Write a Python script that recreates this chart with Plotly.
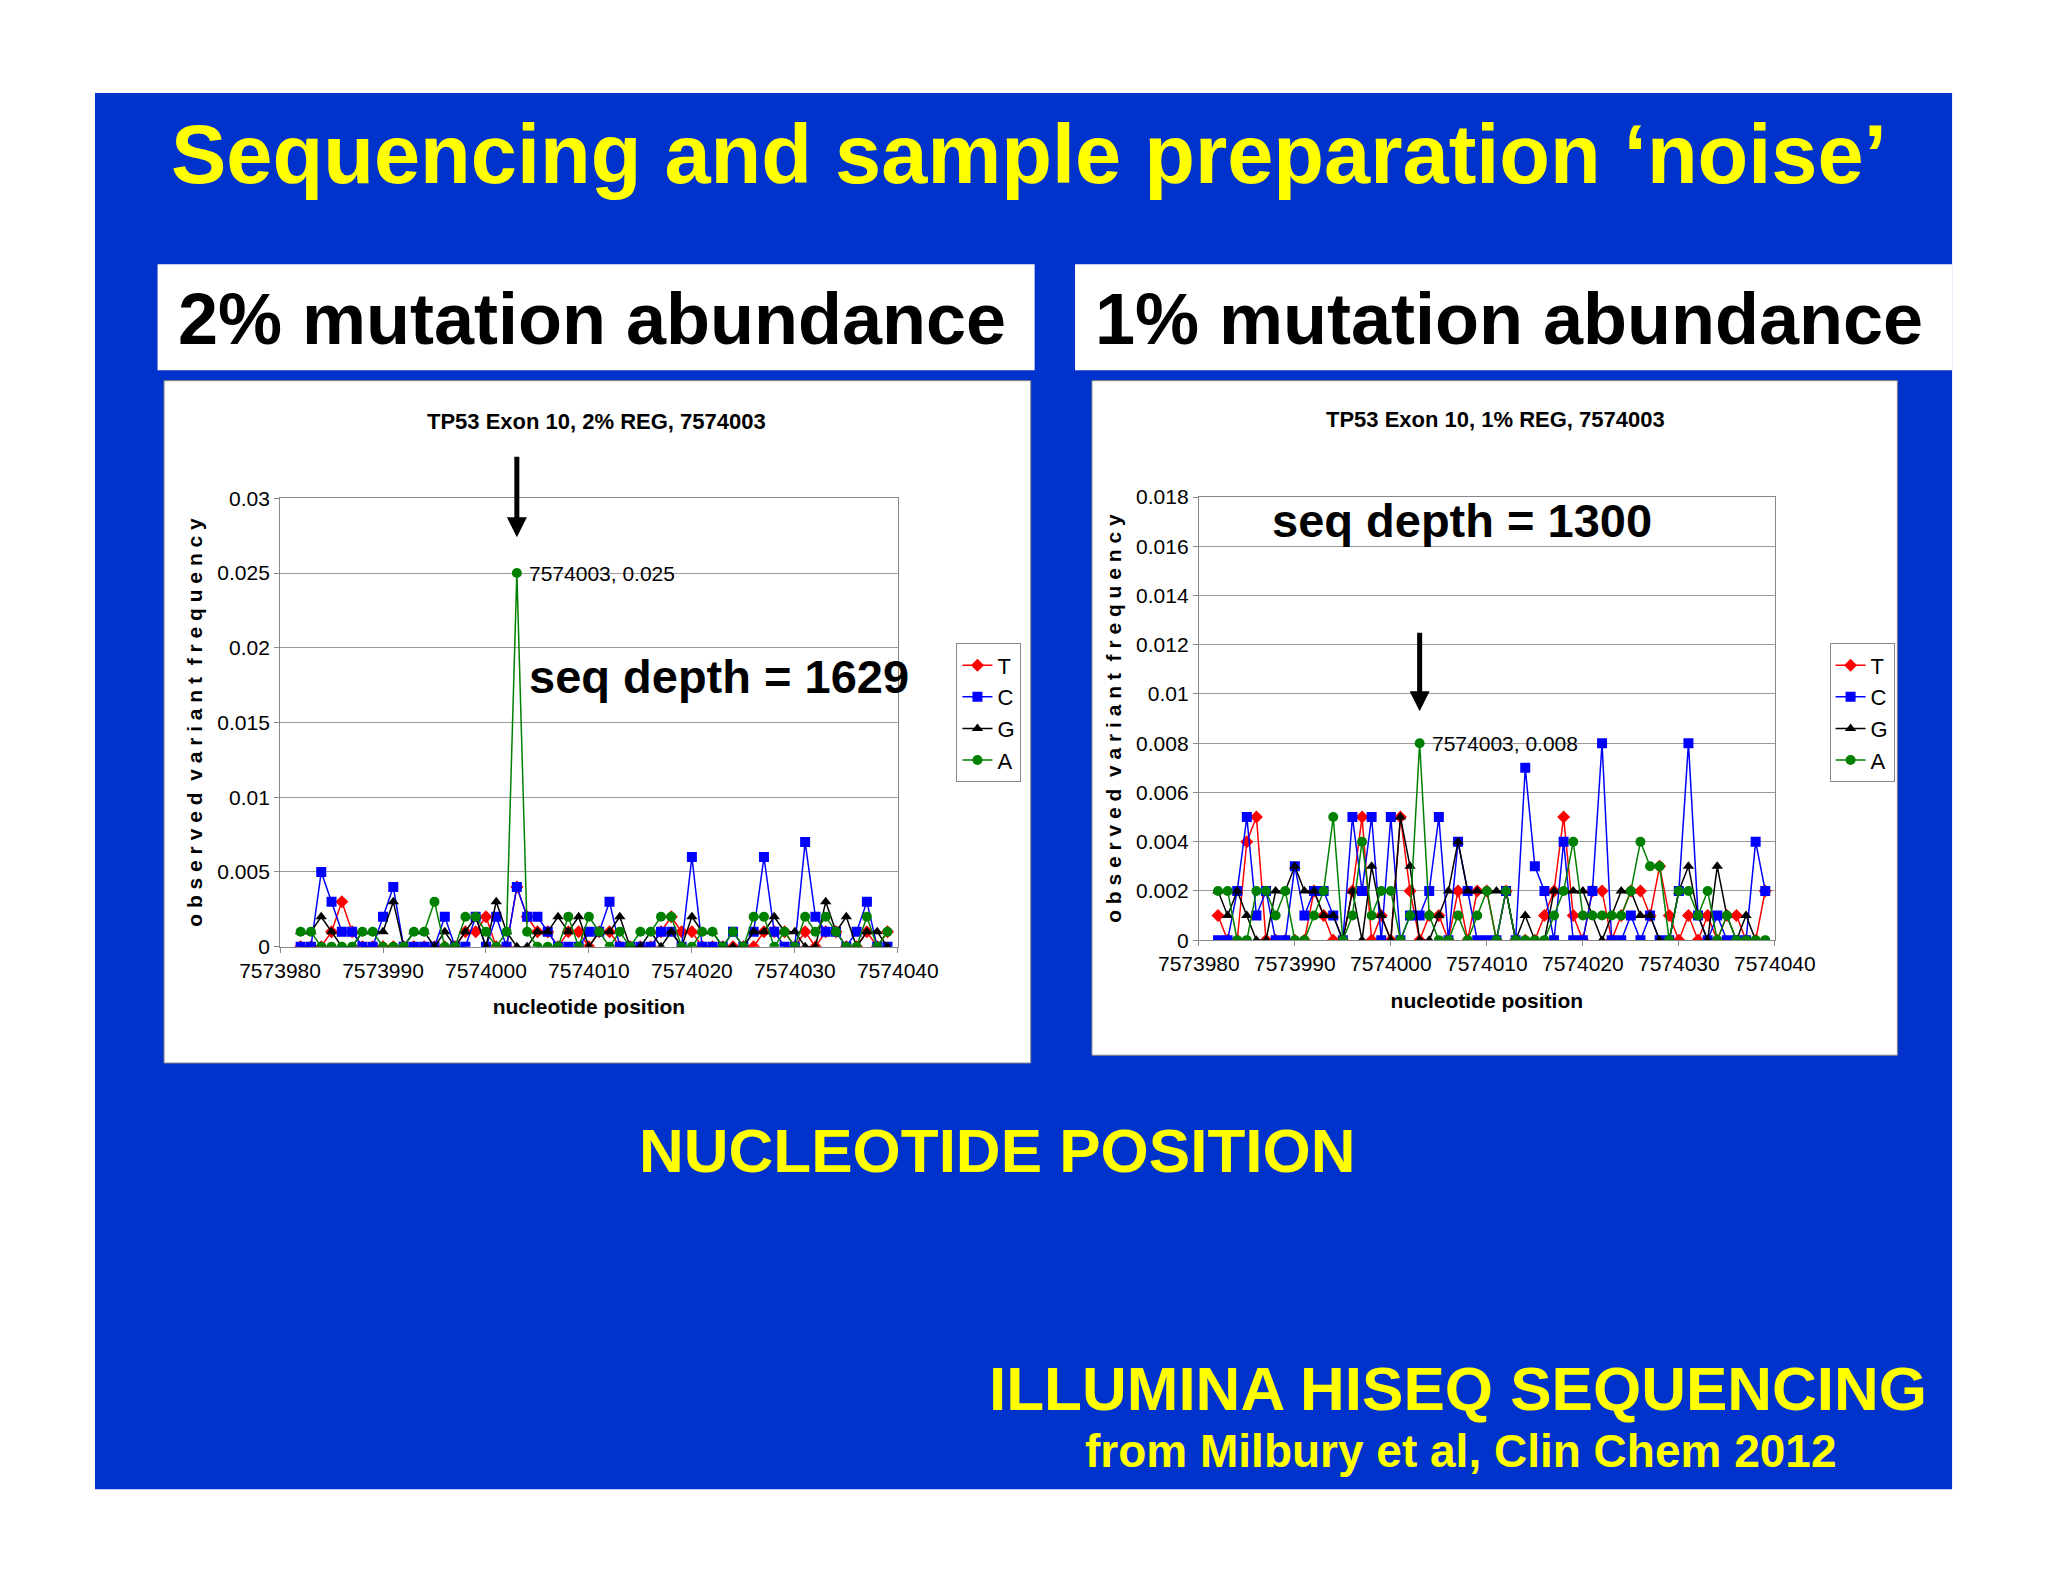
import plotly.graph_objects as go

positions = list(range(7573982, 7574040))
series_names = ["T", "C", "G", "A"]
series_colors = ["#ff0000", "#0000ff", "#000000", "#008000"]
series_symbols = ["diamond", "square", "triangle-up", "circle"]

T_left = [0,0,0,.001,.003,.001,0,0,0,0, 0,0,0,0,0,0,.001,.001,.002,0,
          0,.004,.002,.001,.001,0,.001,.001,0,.001, .001,0,0,0,0,.001,.002,.001,.001,0,
          0,0,0,0,0,.001,.001,.001,0,.001, 0,.001,.001,0,0,.001,0,.001]
C_left = [0,0,.005,.003,.001,.001,0,0,.002,.004, 0,0,0,0,.002,0,0,.002,0,.002,
          0,.004,.002,.002,.001,0,0,0,.001,.001, .003,0,0,0,0,.001,.001,0,.006,0,
          0,0,.001,0,.001,.006,.001,0,0,.007, .002,.001,.001,0,.001,.003,0,0]
G_left = [.001,.001,.002,.001,0,0,.001,.001,.001,.003, 0,.001,.001,0,.001,0,.001,.002,0,.003,
          .001,0,0,.001,.001,.002,.001,.002,0,.001, .001,.002,0,0,.001,0,.001,0,.002,.001,
          .001,0,0,0,.001,.001,.002,.001,.001,0, 0,.003,.001,.002,0,.001,.001,0]
A_left = [.001,.001,0,0,0,0,.001,.001,0,0, 0,.001,.001,.003,0,0,.002,.002,.001,0,
          .001,.025,.001,0,0,0,.002,0,.002,.001, 0,.001,0,.001,.001,.002,.002,0,0,.001,
          .001,0,.001,0,.002,.002,0,.001,0,.002, .001,.002,.001,0,0,.002,0,.001]

T_right = [.001,0,0,.004,.005,0,0,0,0,0, .002,.001,0,0,.002,.005,0,.001,0,.005,
           .002,0,.001,.001,0,.002,0,.002,.002,0, .002,0,0,0,.001,.002,.005,.001,0,.002,
           .002,0,.001,.002,.002,.001,.003,.001,0,.001, 0,.001,0,.001,.001,0,0,.002]
C_right = [0,0,.002,.005,.001,.002,0,0,.003,.001, .002,.002,.001,0,.005,.002,.005,0,.005,0,
           .001,.001,.002,.005,0,.004,.002,0,0,0, .002,0,.007,.003,.002,0,.004,0,0,.002,
           .008,0,0,.001,0,.001,0,0,.002,.008, .001,0,.001,0,0,0,.004,.002]
G_right = [.002,.001,.002,.001,0,0,.002,.002,.003,.002, .002,.001,.001,0,.002,0,.003,.001,0,.005,
           .003,0,0,.001,.002,.004,.002,.002,.002,.002, .002,0,.001,0,0,.002,.002,.002,.002,.001,
           0,.001,.002,.002,.001,.001,0,0,.002,.003, .001,0,.003,.001,0,.001,0,0]
A_right = [.002,.002,0,0,.002,.002,.001,.002,0,0, .001,.002,.005,0,.001,.004,.001,.002,.002,0,
           .001,.008,.001,0,0,.001,0,.001,.002,0, .002,0,0,0,0,.001,.002,.004,.001,.001,
           .001,.001,.001,.002,.004,.003,.003,0,.002,.002, .001,.002,0,.001,0,0,0,0]

left_series = [T_left, C_left, G_left, A_left]
right_series = [T_right, C_right, G_right, A_right]

W, H = 1568.0, 1212.0
def px(x): return ((x - 35.7) / 0.9621) / W
def py(y): return 1 - ((y - 15.1) / 0.984) / H

fig = go.Figure()
for i, name in enumerate(series_names):
    fig.add_trace(go.Scatter(x=positions, y=left_series[i], name=name, mode="lines+markers",
                             line=dict(color=series_colors[i], width=1.5),
                             marker=dict(symbol=series_symbols[i], color=series_colors[i], size=10),
                             xaxis="x", yaxis="y", legend="legend"))
for i, name in enumerate(series_names):
    fig.add_trace(go.Scatter(x=positions, y=right_series[i], name=name, mode="lines+markers",
                             line=dict(color=series_colors[i], width=1.5),
                             marker=dict(symbol=series_symbols[i], color=series_colors[i], size=10),
                             xaxis="x2", yaxis="y2", legend="legend2"))

narrow = "Liberation Sans Narrow, Arial Narrow, Liberation Sans"
tickfont = dict(family=narrow, size=21, color="black")
axfont = dict(family=narrow, size=21, color="black")
common_x = dict(range=[7573980, 7574040], dtick=10, tickformat="d", showgrid=False, showline=True,
                linecolor="#888", mirror=True, ticks="outside", ticklen=5, tickcolor="#888",
                tickfont=tickfont, zeroline=False)
common_y = dict(showgrid=True, gridcolor="#999", showline=True, linecolor="#888", mirror=True,
                ticks="outside", ticklen=5, tickcolor="#888", tickfont=tickfont, zeroline=False,
                tickformat="~g")

shapes = [
    dict(type="rect", xref="paper", yref="paper", x0=px(71), x1=px(1496), y0=py(1139), y1=py(71),
         fillcolor="#0033cc", line=dict(width=0), layer="below"),
    dict(type="rect", xref="paper", yref="paper", x0=px(119), x1=px(792), y0=py(283), y1=py(202),
         fillcolor="white", line=dict(width=0), layer="below"),
    dict(type="rect", xref="paper", yref="paper", x0=px(823), x1=px(1496), y0=py(283), y1=py(202),
         fillcolor="white", line=dict(width=0), layer="below"),
    dict(type="rect", xref="paper", yref="paper", x0=px(124), x1=px(789), y0=py(813), y1=py(291),
         fillcolor="white", line=dict(width=1, color="#888"), layer="below"),
    dict(type="rect", xref="paper", yref="paper", x0=px(836), x1=px(1454), y0=py(807), y1=py(291),
         fillcolor="white", line=dict(width=1, color="#888"), layer="below"),
]

yellow = "#ffff00"
ann = []
def text(x, y, t, size, color="black", xanchor="center", family="Liberation Sans", bold=True):
    ann.append(dict(x=px(x), y=py(y), xref="paper", yref="paper", text=("<b>%s</b>" % t) if bold else t,
                    showarrow=False, xanchor=xanchor, yanchor="middle",
                    font=dict(family=family, size=size, color=color)))

text(788, 118, "Sequencing and sample preparation ‘noise’", 83, yellow)
text(452, 244, "2% mutation abundance", 72)
text(1156, 244, "1% mutation abundance", 72)
text(456, 322, "TP53 Exon 10, 2% REG, 7574003", 22, family=narrow)
text(1146, 321, "TP53 Exon 10, 1% REG, 7574003", 22, family=narrow)
text(550, 517, "seq depth = 1629", 47)
text(1120, 398, "seq depth = 1300", 47)
text(763, 880, "NUCLEOTIDE POSITION", 62, yellow)
text(1478, 1062, "ILLUMINA HISEQ SEQUENCING", 62, yellow, xanchor="right")
text(1119, 1110, "from Milbury et al, Clin Chem 2012", 46, yellow)

ann += [
    dict(x=7574003, y=0.0274, xref="x", yref="y", ax=0, ay=-82, showarrow=True, arrowhead=2,
         arrowsize=0.8, arrowwidth=5, arrowcolor="black", text=""),
    dict(x=7574003, y=0.0093, xref="x2", yref="y2", ax=0, ay=-80, showarrow=True, arrowhead=2,
         arrowsize=0.8, arrowwidth=5, arrowcolor="black", text=""),
    dict(x=7574003, y=0.025, xref="x", yref="y", showarrow=False, xanchor="left", xshift=10,
         text="7574003, 0.025", font=dict(family=narrow, size=21, color="black")),
    dict(x=7574003, y=0.008, xref="x2", yref="y2", showarrow=False, xanchor="left", xshift=10,
         text="7574003, 0.008", font=dict(family=narrow, size=21, color="black")),
]

legstyle = dict(bgcolor="white", bordercolor="#888", borderwidth=1,
                font=dict(family=narrow, size=22, color="black"),
                xanchor="left", yanchor="top", tracegroupgap=0, itemwidth=30)

fig.update_layout(
    width=2048, height=1582, margin=dict(l=0, r=0, t=0, b=0),
    paper_bgcolor="white", plot_bgcolor="white", showlegend=True,
    xaxis=dict(common_x, domain=[px(213), px(687)], anchor="y",
               title=dict(text="<b>nucleotide position</b>", font=axfont, standoff=18)),
    yaxis=dict(common_y, domain=[py(724), py(381)], anchor="x", range=[0, 0.03], dtick=0.005,
               title=dict(text="<b>o b s e r v e d  v a r i a n t  f r e q u e n c y</b>", font=axfont, standoff=8)),
    xaxis2=dict(common_x, domain=[px(918), px(1360)], anchor="y2",
                title=dict(text="<b>nucleotide position</b>", font=axfont, standoff=18)),
    yaxis2=dict(common_y, domain=[py(719), py(380)], anchor="x2", range=[0, 0.018], dtick=0.002,
                title=dict(text="<b>o b s e r v e d  v a r i a n t  f r e q u e n c y</b>", font=axfont, standoff=8)),
    legend=dict(legstyle, x=px(732), y=py(492)),
    legend2=dict(legstyle, x=px(1402), y=py(492)),
    shapes=shapes, annotations=ann,
)
fig.write_html("out.html")
